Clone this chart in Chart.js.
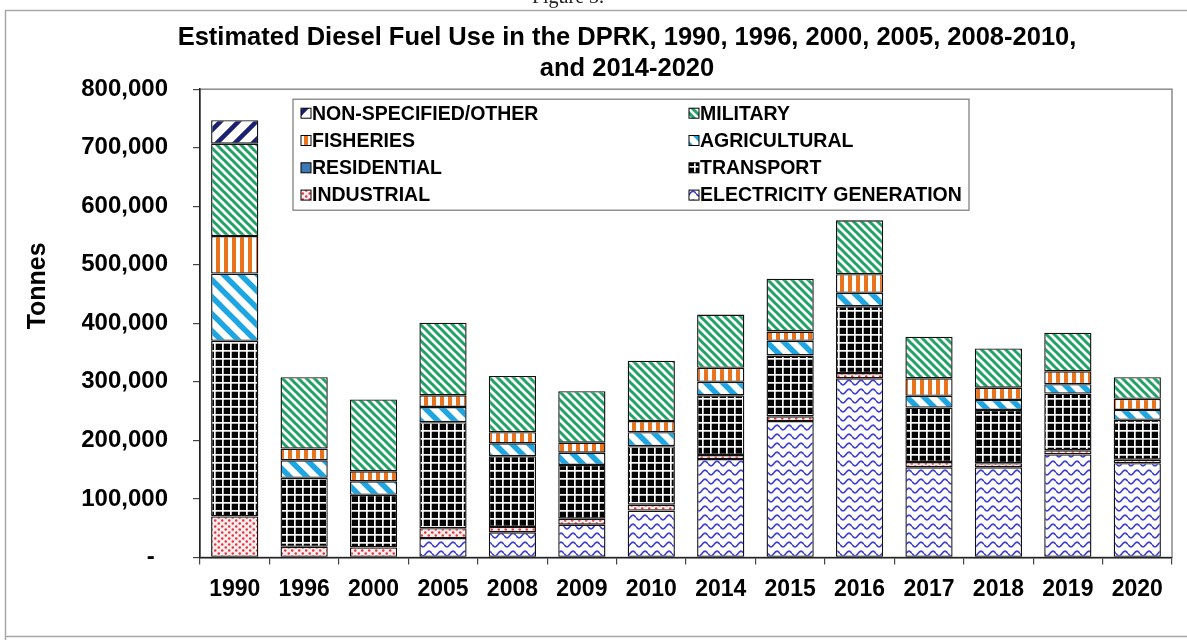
<!DOCTYPE html>
<html lang="en">
<head>
    <meta charset="UTF-8">
    <title>Estimated Diesel Fuel Use in the DPRK</title>
    <style>
        body { margin: 0; background: #fff; }
    </style>
</head>
<body>
    <div>
        <canvas id="myChart" width="1187" height="640"></canvas>
    </div>

    <script src="https://cdn.jsdelivr.net/npm/chart.js"></script>

    <script>
    // Categories and values (tonnes)
    const years = ['1990', '1996', '2000', '2005', '2008', '2009', '2010', '2014', '2015', '2016', '2017', '2018', '2019', '2020'];

    const electricity  = [0, 0, 0, 33000, 43000, 56000, 80000, 168000, 233000, 306000, 154000, 154000, 176000, 161000];
    const industrial   = [70000, 18000, 17000, 17000, 9000, 10000, 10000, 7000, 8000, 9000, 9000, 7000, 7000, 6000];
    const residential  = [0, 0, 0, 0, 0, 0, 0, 0, 0, 0, 0, 0, 0, 0];
    const transport    = [300000, 118000, 90000, 181000, 121000, 92000, 100000, 102000, 104000, 114000, 93000, 91000, 97000, 68000];
    const agricultural = [115000, 30000, 23000, 26000, 22000, 21000, 24000, 23000, 25000, 23000, 20000, 17000, 16000, 17000];
    const fisheries    = [64000, 20000, 17000, 20000, 19000, 17000, 19000, 24000, 16000, 32000, 30000, 21000, 22000, 19000];
    const military     = [158000, 122000, 123000, 124000, 96000, 88000, 103000, 91000, 90000, 92000, 71000, 67000, 66000, 37000];
    const nonSpecified = [40000, 0, 0, 0, 0, 0, 0, 0, 0, 0, 0, 0, 0, 0];

    const yTicks = [0, 100000, 200000, 300000, 400000, 500000, 600000, 700000, 800000];

    const ctx = document.getElementById('myChart');
    const c2d = ctx.getContext('2d');

    // small tile -> repeating pattern
    function tile(w, h, bg, draw) {
        const c = document.createElement('canvas');
        c.width = w;
        c.height = h;
        const g = c.getContext('2d');
        g.fillStyle = bg;
        g.fillRect(0, 0, w, h);
        draw(g, w, h);
        return c2d.createPattern(c, 'repeat');
    }

    // diagonal stripes, dir 1 = "\" , -1 = "/"
    function stripes(size, lw, color, dir) {
        return tile(size, size, '#ffffff', function (g, w, h) {
            g.strokeStyle = color;
            g.lineWidth = lw;
            g.lineCap = 'square';
            g.beginPath();
            for (let k = -2; k <= 2; k++) {
                if (dir > 0) {
                    g.moveTo(k * w - w, -h);
                    g.lineTo(k * w + 2 * w, 2 * h);
                } else {
                    g.moveTo(k * w - w, 2 * h);
                    g.lineTo(k * w + 2 * w, -h);
                }
            }
            g.stroke();
        });
    }

    const patElec = tile(12, 9, '#ffffff', function (g, w, h) {
        g.strokeStyle = '#4141d8';
        g.lineWidth = 1.7;
        g.beginPath();
        for (let x = 0; x <= w; x++) {
            const y = 4.5 + 2.4 * Math.sin(x / w * Math.PI * 2);
            if (x === 0) g.moveTo(x, y); else g.lineTo(x, y);
        }
        g.stroke();
    });

    const patInd = tile(7, 6, '#fdeff0', function (g) {
        g.fillStyle = '#e5343c';
        g.beginPath();
        g.arc(1.75, 1.5, 1.3, 0, Math.PI * 2);
        g.arc(5.25, 4.5, 1.3, 0, Math.PI * 2);
        g.fill();
    });

    const patTrans = tile(8, 8, '#000000', function (g) {
        g.fillStyle = '#ffffff';
        g.fillRect(0, 6, 8, 1.7);
        g.fillRect(6, 0, 1.7, 8);
    });

    const patFish = tile(8, 8, '#ffffff', function (g) {
        g.fillStyle = '#e8731c';
        g.fillRect(0, 0, 4, 8);
    });

    const patAgri = stripes(17, 5.5, '#1ea6e2', 1);
    const patMil = stripes(8, 3, '#20a365', 1);
    const patOther = stripes(18, 4.5, '#1b2170', -1);

    const series = [
        { label: 'ELECTRICITY GENERATION', data: electricity, bg: patElec },
        { label: 'INDUSTRIAL', data: industrial, bg: patInd },
        { label: 'RESIDENTIAL', data: residential, bg: '#3b78b4' },
        { label: 'TRANSPORT', data: transport, bg: patTrans },
        { label: 'AGRICULTURAL', data: agricultural, bg: patAgri },
        { label: 'FISHERIES', data: fisheries, bg: patFish },
        { label: 'MILITARY', data: military, bg: patMil },
        { label: 'NON-SPECIFIED/OTHER', data: nonSpecified, bg: patOther }
    ];

    // legend box order, two columns read row by row
    const legendOrder = ['NON-SPECIFIED/OTHER', 'MILITARY', 'FISHERIES', 'AGRICULTURAL',
                         'RESIDENTIAL', 'TRANSPORT', 'INDUSTRIAL', 'ELECTRICITY GENERATION'];

    const FONT = 'Liberation Sans, Arial, sans-serif';

    // page frame, plot frame, axis title and the boxed legend
    const extras = {
        id: 'extras',
        beforeDraw(chart) {
            const g = chart.ctx;
            const a = chart.chartArea;
            g.save();
            g.fillStyle = '#fff';
            g.fillRect(0, 0, chart.width, chart.height);

            g.fillStyle = '#222';
            g.font = '20px "Liberation Serif", serif';
            g.textAlign = 'center';
            g.fillText('Figure 3.', 568, 3);

            g.strokeStyle = '#a8a8a8';
            g.lineWidth = 1.5;
            g.beginPath();
            g.moveTo(5.5, chart.height);
            g.lineTo(5.5, 10.5);
            g.lineTo(chart.width, 10.5);
            g.moveTo(5.5, 636.5);
            g.lineTo(chart.width, 636.5);
            g.stroke();

            g.strokeStyle = '#8a8a8a';
            g.lineWidth = 1.5;
            g.strokeRect(a.left, a.top, a.right - a.left, a.bottom - a.top);

            // y axis title, sits a little above the middle as in the figure
            g.translate(38, a.top + (a.bottom - a.top) * 0.42);
            g.rotate(-Math.PI / 2);
            g.fillStyle = '#000';
            g.font = 'bold 25px ' + FONT;
            g.textBaseline = 'middle';
            g.fillText('Tonnes', 0, 0);
            g.restore();
        },
        afterDraw(chart) {
            const g = chart.ctx;
            const a = chart.chartArea;
            const bx = a.left + 93, by = a.top + 10, bw = 676, bh = 111;
            g.save();
            g.fillStyle = '#fff';
            g.fillRect(bx, by, bw, bh);
            g.strokeStyle = '#777';
            g.lineWidth = 1.2;
            g.strokeRect(bx, by, bw, bh);

            g.font = 'bold 19.5px ' + FONT;
            g.textBaseline = 'middle';
            g.textAlign = 'left';
            legendOrder.forEach(function (name, i) {
                const s = series.find(function (d) { return d.label === name; });
                const col = i % 2, row = Math.floor(i / 2);
                const x = bx + 8 + col * 388;
                const y = by + 14 + row * 27.3;
                g.fillStyle = s.bg;
                g.fillRect(x, y - 5, 10, 10);
                g.strokeStyle = '#000';
                g.lineWidth = 1;
                g.strokeRect(x, y - 5, 10, 10);
                g.fillStyle = '#000';
                g.fillText(name, x + 11, y + 1);
            });
            g.restore();
        }
    };

    new Chart(ctx, {
        type: 'bar',
        data: {
            labels: years,
            datasets: series.map(function (s) {
                return {
                    label: s.label,
                    data: s.data,
                    backgroundColor: s.bg,
                    borderColor: '#111',
                    borderWidth: 1.4,
                    borderSkipped: false,
                    barPercentage: 0.68,
                    categoryPercentage: 1.0
                };
            })
        },
        options: {
            responsive: false,
            animation: false,
            devicePixelRatio: 1,
            layout: {
                // wide left padding keeps the title centred where the figure has it
                padding: { left: 82, right: 15, top: 10, bottom: 26 }
            },
            plugins: {
                legend: { display: false },
                tooltip: { enabled: false },
                title: {
                    display: true,
                    text: ['Estimated Diesel Fuel Use in the DPRK, 1990, 1996, 2000, 2005, 2008-2010,', 'and 2014-2020'],
                    color: '#000',
                    font: { family: FONT, size: 25.5, weight: 'bold', lineHeight: 1.2 },
                    padding: { top: 13, bottom: 5 }
                }
            },
            scales: {
                x: {
                    stacked: true,
                    grid: { drawOnChartArea: false, offset: true, tickLength: 7, color: '#444', lineWidth: 1.2 },
                    border: { color: '#222', width: 1.5 },
                    ticks: {
                        color: '#000',
                        padding: 11,
                        font: { family: FONT, size: 23, weight: 'bold' }
                    }
                },
                y: {
                    stacked: true,
                    min: 0,
                    max: 800000,
                    afterFit: function (scale) { scale.width = 118; },
                    afterBuildTicks: function (scale) {
                        scale.ticks = yTicks.map(function (v) { return { value: v }; });
                    },
                    grid: { drawOnChartArea: false, tickLength: 7, color: '#444', lineWidth: 1.2 },
                    border: { color: '#222', width: 1.5 },
                    ticks: {
                        color: '#000',
                        padding: 25,
                        font: { family: FONT, size: 24, weight: 'bold' },
                        callback: function (v) {
                            return v === 0 ? '-  ' : v.toLocaleString('en-US');
                        }
                    }
                }
            }
        },
        plugins: [extras]
    });
    </script>
</body>
</html>
